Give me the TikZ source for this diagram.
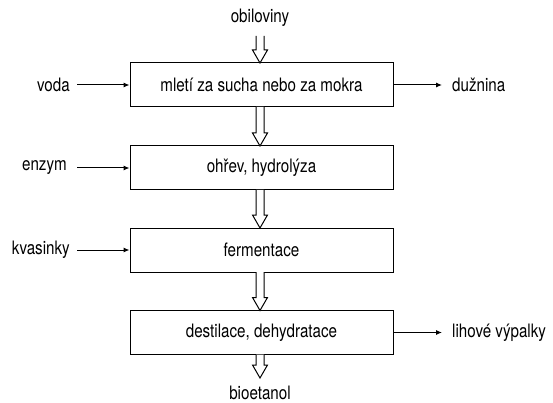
\documentclass[tikz,border=0pt]{standalone}
\usepackage{fontspec}
\setmainfont{TeX Gyre Heros}[FakeStretch=0.82]
\usetikzlibrary{calc,arrows.meta}
\newcommand\harrow[2]{%
  \draw[line width=1pt,fill=white,line join=miter] let \p1=(#1), \p2=(#2) in
    (\x1-4pt,\y1) -- (\x1-4pt,\y2+13pt) -- (\x1-7.5pt,\y2+13pt) -- (\x1,\y2)
    -- (\x1+7.5pt,\y2+13pt) -- (\x1+4pt,\y2+13pt) -- (\x1+4pt,\y1);}
\begin{document}
\begin{tikzpicture}[x=1pt,y=-1pt,
  procbox/.style={draw,line width=1pt,minimum width=263pt,minimum height=44pt,inner sep=0pt,font=\fontsize{18.5}{22}\selectfont},
  lbl/.style={inner sep=0pt,font=\fontsize{18.5}{22}\selectfont},
  thin arrow/.style={line width=1pt,-{Latex[length=6pt,width=5pt]}}]
\useasboundingbox (0,0) rectangle (553,403);
\node[procbox] (b1) at (261.5,85) {mletí za sucha nebo za mokra};
\node[procbox] (b2) at (261.5,168) {ohřev, hydrolýza};
\node[procbox] (b3) at (261.5,250) {fermentace};
\node[procbox] (b4) at (261.5,332.5) {destilace, dehydratace};
\node[lbl] (ob) at (260,18) {obiloviny};
\node[lbl] (bio) at (260,393) {bioetanol};
\node[lbl,anchor=east] (voda) at (70,85) {voda};
\node[lbl,anchor=east] (enz) at (67,168) {enzym};
\node[lbl,anchor=east] (kv) at (70,250) {kvasinky};
\node[lbl,anchor=west] (duz) at (452,85) {dužnina};
\node[lbl,anchor=west] (lih) at (452,332.5) {lihové výpalky};
\coordinate (obs) at (260,36);
\coordinate (b1s) at (260,107);
\coordinate (b2s) at (260,190);
\coordinate (b3s) at (260,272);
\coordinate (b4s) at (260,354.5);
\coordinate (b2n) at (260,146);
\coordinate (b3n) at (260,228);
\coordinate (b4n) at (260,310.5);
\coordinate (b1n) at (260,63);
\coordinate (bion) at (260,378);
\harrow{obs}{b1n}
\harrow{b1s}{b2n}
\harrow{b2s}{b3n}
\harrow{b3s}{b4n}
\harrow{b4s}{bion}
\draw[thin arrow] ($(voda.east)+(7,0)$) -- (b1.west);
\draw[thin arrow] ($(enz.east)+(10,0)$) -- (b2.west);
\draw[thin arrow] ($(kv.east)+(7,0)$) -- (b3.west);
\draw[thin arrow] (b1.east) -- ($(duz.west)+(-10,0)$);
\draw[thin arrow] (b4.east) -- ($(lih.west)+(-10,0)$);
\end{tikzpicture}
\end{document}
